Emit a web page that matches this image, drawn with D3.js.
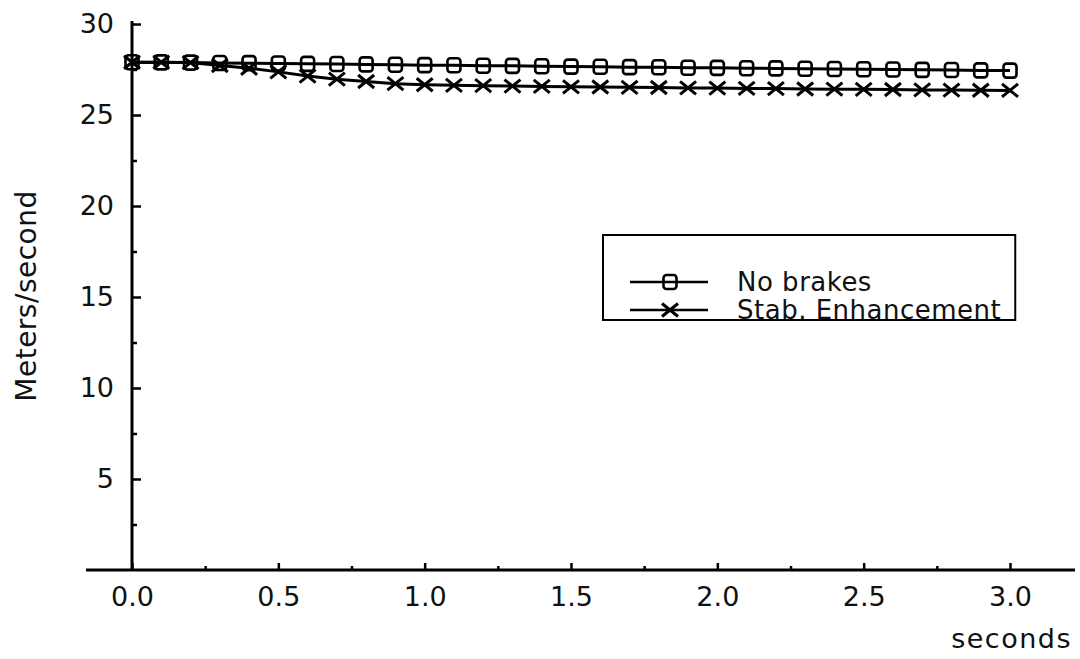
<!DOCTYPE html>
<html>
<head>
<meta charset="utf-8">
<script src="https://cdn.jsdelivr.net/npm/d3@7"></script>
<style>
  body { margin: 0; background: #fff; }
  svg { display: block; font-family: 'DejaVu Sans', sans-serif; }
</style>
</head>
<body>
<svg id="chart" width="1080" height="659"></svg>
<script>

const time = [0.0, 0.1, 0.2, 0.3, 0.4, 0.5, 0.6, 0.7, 0.8, 0.9, 1.0,
    1.1, 1.2, 1.3, 1.4, 1.5, 1.6, 1.7, 1.8, 1.9, 2.0,
    2.1, 2.2, 2.3, 2.4, 2.5, 2.6, 2.7, 2.8, 2.9, 3.0]

const noBrakes = [27.90, 27.89, 27.88, 27.86, 27.85, 27.83, 27.81, 27.80, 27.78, 27.76, 27.74,
    27.73, 27.71, 27.70, 27.68, 27.66, 27.65, 27.63, 27.62, 27.60, 27.59,
    27.57, 27.56, 27.54, 27.53, 27.51, 27.50, 27.48, 27.47, 27.45, 27.44]

const stabEnh = [27.90, 27.90, 27.88, 27.72, 27.57, 27.37, 27.14, 26.97, 26.84, 26.72, 26.66,
    26.63, 26.61, 26.59, 26.57, 26.55, 26.54, 26.52, 26.51, 26.49, 26.48,
    26.46, 26.45, 26.43, 26.42, 26.41, 26.40, 26.38, 26.37, 26.36, 26.35]

const xTicks = [0, 0.5, 1.0, 1.5, 2.0, 2.5, 3.0]
const xMinor = [0.25, 0.75, 1.25, 1.75, 2.25, 2.75]
const yTicks = [5, 10, 15, 20, 25, 30]
const yMinor = [2.5, 7.5, 12.5, 17.5, 22.5, 27.5]

const legendLabels = ['No brakes', 'Stab. Enhancement']

const FONT = "'DejaVu Sans', sans-serif"
const svg = d3.select('#chart')

let x = d3.scaleLinear().domain([0, 3]).range([132, 1010])
let y = d3.scaleLinear().domain([0, 30]).range([570, 24])

// axis lines
svg.append('line')
    .attr('x1', x(0)).attr('x2', x(0))
    .attr('y1', y(0)).attr('y2', y(30) - 3)
    .attr('stroke', '#000').attr('stroke-width', 3)

svg.append('line')
    .attr('x1', 86).attr('x2', 1075)
    .attr('y1', y(0)).attr('y2', y(0))
    .attr('stroke', '#000').attr('stroke-width', 3)

function styleAxis (g) {
    g.attr('font-family', FONT).attr('font-size', 27)
    g.select('.domain').remove()
    g.selectAll('.tick text').attr('fill', '#111')
    g.selectAll('.tick line').attr('stroke', '#000').attr('stroke-width', 2.5)
}

// y ticks (pointing inward)
svg.append('g')
    .attr('transform', `translate(${x(0)},0)`)
    .call(d3.axisLeft(y).tickValues(yTicks).tickSize(-9).tickPadding(18))
    .call(styleAxis)

svg.append('g')
    .attr('transform', `translate(${x(0)},0)`)
    .call(d3.axisLeft(y).tickValues(yMinor).tickSize(-5).tickFormat(''))
    .call(styleAxis)

// x ticks
svg.append('g')
    .attr('transform', `translate(0,${y(0)})`)
    .call(d3.axisBottom(x).tickValues(xTicks).tickSize(-7)
        .tickPadding(17).tickFormat(d3.format('.1f')))
    .call(styleAxis)

svg.append('g')
    .attr('transform', `translate(0,${y(0)})`)
    .call(d3.axisBottom(x).tickValues(xMinor).tickSize(-4).tickFormat(''))
    .call(styleAxis)

// axis titles
svg.append('text')
    .attr('transform', 'translate(26,296) rotate(-90)')
    .attr('text-anchor', 'middle')
    .attr('dominant-baseline', 'central')
    .style('font-size', '28px')
    .style('letter-spacing', '0.5px')
    .attr('fill', '#111')
    .text('Meters/second')

svg.append('text')
    .attr('x', 1072).attr('y', 648)
    .attr('text-anchor', 'end')
    .style('font-size', '27px')
    .style('letter-spacing', '1.5px')
    .attr('fill', '#111')
    .text('seconds')

// series
const series = [
    { name: legendLabels[0], values: noBrakes, marker: 'square' },
    { name: legendLabels[1], values: stabEnh, marker: 'cross' }
]

let line = d3.line()
    .x((d, i) => x(time[i]))
    .y(d => y(d))

function drawMarker (g, type, cx, cy) {
    if (type === 'square') {
        g.append('rect')
            .attr('x', cx - 6.5).attr('y', cy - 7)
            .attr('width', 13).attr('height', 14)
            .attr('rx', 3)
            .attr('fill', 'none')
            .attr('stroke', '#000').attr('stroke-width', 2.6)
    } else {
        g.append('path')
            .attr('d', `M${cx-8},${cy-6.5}L${cx+8},${cy+6.5}M${cx-8},${cy+6.5}L${cx+8},${cy-6.5}`)
            .attr('stroke', '#000').attr('stroke-width', 3)
            .attr('fill', 'none')
    }
}

series.forEach(s => {
    svg.append('path')
        .datum(s.values)
        .attr('d', line)
        .attr('fill', 'none')
        .attr('stroke', '#000')
        .attr('stroke-width', 3)

    let g = svg.append('g')
    s.values.forEach((v, i) => drawMarker(g, s.marker, x(time[i]), y(v)))
})

// legend
let lg = svg.append('g')
let rowY = [282, 310]
series.forEach((s, i) => {
    lg.append('line')
        .attr('x1', 630).attr('x2', 708)
        .attr('y1', rowY[i]).attr('y2', rowY[i])
        .attr('stroke', '#000').attr('stroke-width', 2.5)
    drawMarker(lg, s.marker, 670, rowY[i])
    lg.append('text')
        .attr('x', 737).attr('y', rowY[i])
        .attr('dominant-baseline', 'central')
        .style('font-size', '26px')
        .style('letter-spacing', '0.5px')
        .attr('fill', '#111')
        .text(s.name)
})

let tw = d3.max(lg.selectAll('text').nodes(), n => n.getBBox().x + n.getBBox().width)
lg.insert('rect', ':first-child')
    .attr('x', 603).attr('y', 235)
    .attr('width', tw + 14 - 603).attr('height', 85)
    .attr('fill', 'none')
    .attr('stroke', '#000').attr('stroke-width', 2)

</script>
</body>
</html>
